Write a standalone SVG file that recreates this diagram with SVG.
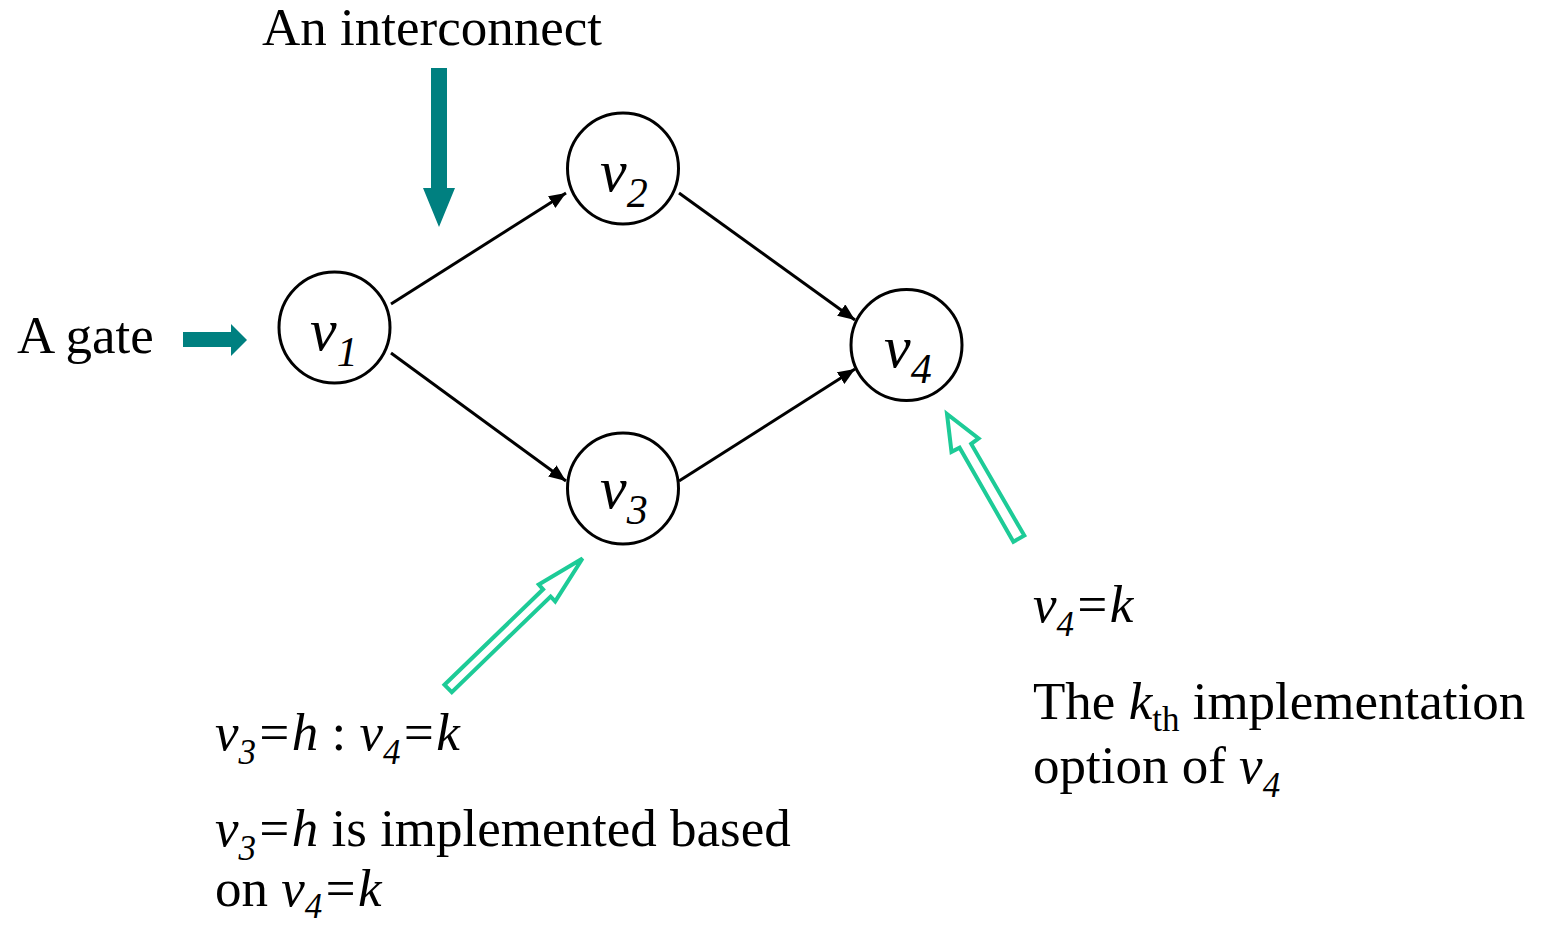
<svg xmlns="http://www.w3.org/2000/svg" width="1549" height="926" viewBox="0 0 1549 926">
  <style>
    text { font-family: "Liberation Serif", "Times New Roman", serif; fill: #000; }
    .lbl { font-size: 53px; }
    .node-lbl { font-size: 60px; font-style: italic; }
    .it { font-style: italic; }
    .node { fill: #fff; stroke: #000; stroke-width: 3; }
    .edge { stroke: #000; stroke-width: 3; fill: none; marker-end: url(#tip); }
    .solid-arrow { fill: #008080; stroke: none; }
    .hollow-arrow { fill: none; stroke: #1DCB97; stroke-width: 4; stroke-linejoin: miter; }
  </style>
  <defs>
    <marker id="tip" markerUnits="userSpaceOnUse" markerWidth="18" markerHeight="14" refX="17" refY="7" orient="auto">
      <path d="M0,0 L17,7 L0,14 Z" fill="#000"/>
    </marker>
  </defs>

  <rect width="1549" height="926" fill="#fff"/>

  <!-- edges between nodes -->
  <g id="connectors">
    <line class="edge" x1="391" y1="304" x2="566" y2="193"/>
    <line class="edge" x1="391" y1="353" x2="566" y2="481"/>
    <line class="edge" x1="679" y1="193" x2="855" y2="320"/>
    <line class="edge" x1="679" y1="481" x2="855" y2="369"/>
  </g>

  <g id="v1">
    <circle class="node" cx="334.5" cy="327.5" r="55.5"/>
    <text class="node-lbl" x="310" y="350">v<tspan font-size="42" dy="16">1</tspan></text>
  </g>
  <g id="v2">
    <circle class="node" cx="623" cy="168.5" r="55.5"/>
    <text class="node-lbl" x="600" y="191">v<tspan font-size="42" dy="16">2</tspan></text>
  </g>
  <g id="v3">
    <circle class="node" cx="623" cy="488.5" r="55.5"/>
    <text class="node-lbl" x="600" y="508">v<tspan font-size="42" dy="16">3</tspan></text>
  </g>
  <g id="v4">
    <circle class="node" cx="906.5" cy="345" r="55.5"/>
    <text class="node-lbl" x="884" y="367">v<tspan font-size="42" dy="16">4</tspan></text>
  </g>

  <!-- callout: interconnect -->
  <g id="interconnect">
    <text class="lbl" x="262" y="45">An interconnect</text>
    <polygon class="solid-arrow" points="431,68 447,68 447,188 455,188 439,227 423,188 431,188"/>
  </g>

  <!-- callout: gate -->
  <g id="gate">
    <text class="lbl" x="17" y="353">A gate</text>
    <polygon class="solid-arrow" points="183,332 231,332 231,324 247,340 231,356 231,347 183,347"/>
  </g>

  <!-- callout: v3 implementation choice -->
  <g id="note-v3">
    <polygon class="hollow-arrow" points="444.5,684.8 543.1,589.3 538.8,584.5 582.5,558.5 555.2,601.4 550.6,596.5 451.8,692.2"/>
    <text class="lbl" x="215" y="750"><tspan class="it">v</tspan><tspan class="it" font-size="35" dy="14">3</tspan><tspan class="it" dy="-14">=h</tspan> : <tspan class="it">v</tspan><tspan class="it" font-size="35" dy="14">4</tspan><tspan class="it" dy="-14">=k</tspan></text>
    <text class="lbl" x="215" y="846"><tspan class="it">v</tspan><tspan class="it" font-size="35" dy="14">3</tspan><tspan class="it" dy="-14">=h</tspan> is implemented based</text>
    <text class="lbl" x="215" y="906">on <tspan class="it">v</tspan><tspan class="it" font-size="35" dy="12">4</tspan><tspan class="it" dy="-12">=k</tspan></text>
  </g>

  <!-- callout: v4 implementation choice -->
  <g id="note-v4">
    <polygon class="hollow-arrow" points="1024.3,535.6 971.2,443.9 978.6,438.4 947,414 951.5,451.8 959.6,447.7 1013.4,541.7"/>
    <text class="lbl" x="1033" y="622"><tspan class="it">v</tspan><tspan class="it" font-size="35" dy="14">4</tspan><tspan class="it" dy="-14">=k</tspan></text>
    <text class="lbl" x="1033" y="719">The <tspan class="it">k</tspan><tspan font-size="35" dy="12">th</tspan><tspan dy="-12"> implementation</tspan></text>
    <text class="lbl" x="1033" y="783">option of <tspan class="it">v</tspan><tspan class="it" font-size="35" dy="14">4</tspan></text>
  </g>
</svg>
